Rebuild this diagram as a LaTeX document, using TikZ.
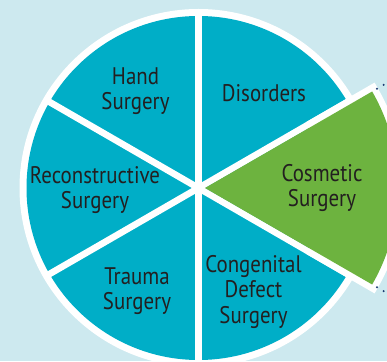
\documentclass[tikz,border=0pt]{standalone}
\usepackage{fontspec}
\setmainfont{PT Sans}[FakeStretch=0.87]
\usetikzlibrary{calc}
\definecolor{bgblue}{HTML}{CDE9EF}
\definecolor{sliceteal}{HTML}{00AEC7}
\definecolor{slicegreen}{HTML}{6DB33F}
\definecolor{ink}{HTML}{231F20}
\definecolor{dotnavy}{HTML}{1C3B72}
\begin{document}
\begin{tikzpicture}[x=1pt,y=1pt,
  slicelabel/.style={text=ink, font=\fontsize{24}{25.5}\selectfont, align=center, inner sep=0pt},
  divider/.style={white, line width=6.6pt},
  guide/.style={dotnavy, line width=2.2pt, line cap=round, dash pattern=on 0pt off 7.8pt}]
  \fill[bgblue] (0,0) rectangle (387,361);
  \useasboundingbox (0,0) rectangle (387,361);
  \begin{scope}
    \clip (0,0) rectangle (387,361);
    \coordinate (C) at (198.5,173);
    \coordinate (T) at (205,173);
    % pie with white rim
    \fill[white] (C) circle (179);
    \fill[sliceteal] (C) circle (172);
    \foreach \a in {30,90,150,210,270,330}
      \draw[divider] (C) -- ++(\a:176);
    % pulled-out slice
    \coordinate (gA) at ($(T)+(30:193)$);
    \coordinate (gB) at ($(T)+(-30:193)$);
    \draw[white, line width=13pt, line join=miter]
      ($(T)+(30:120)$) -- (gA) arc (30:-30:193) -- ($(T)+(-30:120)$);
    \fill[slicegreen] (T) -- (gA) arc (30:-30:193) -- cycle;
    \draw[guide] ($(T)+(30:198.5)$) -- ($(T)+(30:260)$);
    \draw[guide] ($(T)+(-30:198.5)$) -- ($(T)+(-30:260)$);
  \end{scope}
  % labels
  \node[slicelabel] (hand) at (135.5,270) {Hand\\Surgery};
  \node[slicelabel, anchor=base] (disorders) at (264,259.3) {Disorders};
  \node[slicelabel] (recon) at (95,171) {Reconstructive\\Surgery};
  \node[slicelabel] (cosmetic) at (322,173) {Cosmetic\\Surgery};
  \node[slicelabel] (trauma) at (137,70) {Trauma\\Surgery};
  \node[slicelabel] (congenital) at (253.5,69.5) {Congenital\\Defect\\Surgery};
\end{tikzpicture}
\end{document}
